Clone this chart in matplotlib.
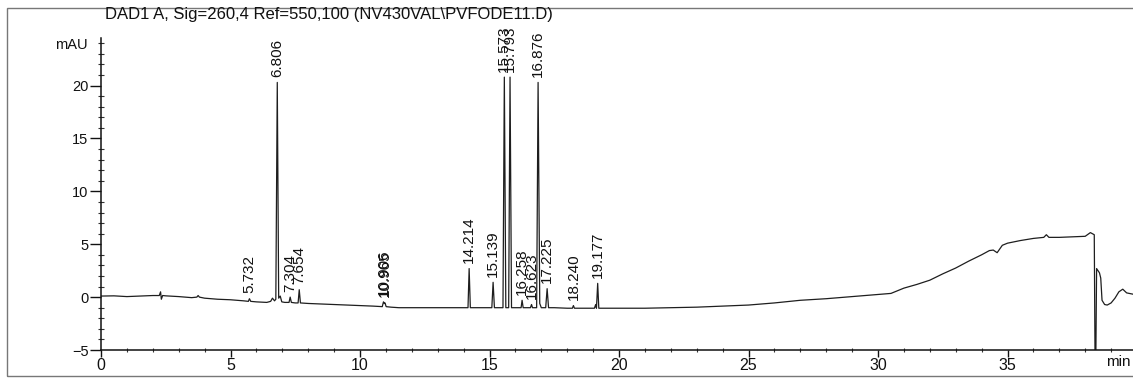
import matplotlib
matplotlib.use('Agg')
import matplotlib.pyplot as plt
from matplotlib.ticker import MultipleLocator
from matplotlib.patches import Rectangle

plt.rcParams['font.family'] = ['Liberation Sans', 'DejaVu Sans']

title = "DAD1 A, Sig=260,4 Ref=550,100 (NV430VAL\\PVFODE11.D)"
y_unit = "mAU"
x_unit = "min"

time_min = [
    0.0, 0.5, 1.0, 1.5, 2.0, 2.25, 2.3, 2.33, 2.38, 2.5, 3.0, 3.5, 3.7, 3.75, 3.8,
    4.0, 4.5, 5.0, 5.5, 5.69, 5.732, 5.78, 6.0, 6.4, 6.55, 6.62, 6.7, 6.75, 6.806,
    6.86, 6.92, 6.98, 7.1, 7.26, 7.304, 7.35, 7.5, 7.61, 7.654, 7.70, 8.0, 8.5,
    9.0, 9.5, 10.0, 10.5, 10.86, 10.906, 10.94, 10.965, 11.01, 11.2, 11.5, 12.0,
    13.0, 14.0, 14.17, 14.214, 14.26, 14.5, 15.0, 15.09, 15.139, 15.19, 15.4,
    15.52, 15.573, 15.63, 15.74, 15.793, 15.85, 16.0, 16.22, 16.258, 16.3, 16.58,
    16.623, 16.66, 16.82, 16.876, 16.94, 17.0, 17.17, 17.225, 17.28, 17.5, 18.0,
    18.2, 18.24, 18.28, 18.6, 19.05, 19.1, 19.13, 19.177, 19.22, 19.5, 20.0, 21.0,
    22.0, 23.0, 24.0, 25.0, 26.0, 27.0, 28.0, 29.0, 30.0, 30.5, 31.0, 31.5, 32.0,
    32.5, 33.0, 33.5, 34.0, 34.3, 34.45, 34.6, 34.8, 35.0, 35.5, 36.0, 36.4, 36.5,
    36.6, 37.0, 37.5, 38.0, 38.2, 38.35, 38.38, 38.41, 38.44, 38.55, 38.6, 38.65,
    38.75, 38.85, 39.0, 39.15, 39.3, 39.45, 39.6, 39.8, 40.0,
]
signal_mau = [
    0.1, 0.12, 0.05, 0.1, 0.15, 0.15, 0.5, -0.2, 0.15, 0.12, 0.05, -0.05, 0.0, 0.15, 0.0,
    -0.1, -0.2, -0.25, -0.35, -0.4, -0.15, -0.4, -0.45, -0.5, -0.4, -0.1, -0.35, -0.2, 20.3,
    -0.1, 0.1, -0.45, -0.5, -0.5, 0.0, -0.5, -0.55, -0.55, 0.7, -0.55, -0.6, -0.65,
    -0.7, -0.75, -0.8, -0.85, -0.9, -0.45, -0.6, -0.55, -0.9, -0.95, -1.0, -1.0,
    -1.0, -1.0, -1.0, 2.7, -1.0, -1.0, -1.0, -1.0, 1.4, -1.0, -1.0,
    -1.0, 20.8, -1.0, -1.0, 20.8, -1.0, -1.0, -1.0, -0.3, -1.0, -1.0,
    -0.7, -1.0, -1.0, 20.3, -0.6, -1.0, -1.0, 0.8, -1.0, -1.0, -1.05,
    -1.05, -0.8, -1.05, -1.05, -1.05, -0.7, -1.05, 1.3, -1.05, -1.05, -1.05, -1.05,
    -1.0, -0.95, -0.85, -0.75, -0.55, -0.3, -0.15, 0.05, 0.25, 0.35, 0.85, 1.2, 1.6,
    2.2, 2.75, 3.4, 4.0, 4.4, 4.45, 4.2, 4.9, 5.1, 5.35, 5.55, 5.65, 5.9,
    5.65, 5.65, 5.7, 5.75, 6.1, 5.9, -6.0, -6.0, 2.7, 2.3, 1.8, -0.3,
    -0.7, -0.75, -0.55, -0.1, 0.5, 0.75, 0.4, 0.3, 0.2,
]

peak_rt = [5.732, 6.806, 7.304, 7.654, 10.906, 10.965, 14.214, 15.139, 15.573,
           15.793, 16.258, 16.623, 16.876, 17.225, 18.240, 19.177]
peak_labels = ["5.732", "6.806", "7.304", "7.654", "10.906", "10.965", "14.214",
               "15.139", "15.573", "15.793", "16.258", "16.623", "16.876", "17.225",
               "18.240", "19.177"]
peak_apex = [-0.15, 20.3, 0.0, 0.7, -0.45, -0.55, 2.7, 1.4, 20.8, 20.8, -0.3, -0.7,
             20.3, 0.8, -0.8, 1.3]

x_ticks = [0, 5, 10, 15, 20, 25, 30, 35]
y_ticks = [-5, 0, 5, 10, 15, 20]

W, H = 1133, 379
fig = plt.figure(figsize=(W / 100, H / 100), dpi=100)
fig.patch.set_facecolor('white')

# outer frame
fig.patches.append(Rectangle((7 / W, 3 / H), 1.2, 368 / H, transform=fig.transFigure,
                             fill=False, edgecolor='#777777', linewidth=1.0))

ax = fig.add_axes([101 / W, 29 / H, 1032 / W, 312 / H])
ax.plot(time_min, signal_mau, color='#1e1e1e', linewidth=0.9, clip_on=True)
ax.set_xlim(0, 1032 / 25.9)
ax.set_ylim(-5, 24.5)

for s in ['top', 'right']:
    ax.spines[s].set_visible(False)
for s in ['left', 'bottom']:
    ax.spines[s].set_color('#111111')
    ax.spines[s].set_linewidth(1.1)

ax.set_xticks(x_ticks)
ax.set_yticks(y_ticks)
ax.xaxis.set_minor_locator(MultipleLocator(1))
ax.yaxis.set_minor_locator(MultipleLocator(1))
ax.tick_params(axis='x', which='major', direction='out', length=5, width=1,
               labelsize=11.5, pad=1, colors='#111111')
ax.tick_params(axis='x', which='minor', direction='inout', length=3, width=0.8,
               colors='#333333')
ax.tick_params(axis='y', which='major', direction='out', length=8, width=1,
               labelsize=10.5, pad=1, colors='#111111')
ax.tick_params(axis='y', which='minor', direction='inout', length=4, width=0.8,
               colors='#333333')

for rt, lab, ap in zip(peak_rt, peak_labels, peak_apex):
    ax.annotate(lab, xy=(rt, ap), xytext=(0, 4), textcoords='offset points',
                rotation=90, ha='center', va='bottom', fontsize=11,
                color='#111111', annotation_clip=False)

fig.text(105 / W, 1 - 15 / H, title, ha='left', va='center', fontsize=12,
         color='#111111')
fig.text(88 / W, 1 - 45 / H, y_unit, ha='right', va='center', fontsize=10.5,
         color='#111111')
fig.text(1106 / W, 1 - 362 / H, x_unit, ha='left', va='center', fontsize=11,
         color='#111111')

fig.savefig('out.png', dpi=100, facecolor='white')
